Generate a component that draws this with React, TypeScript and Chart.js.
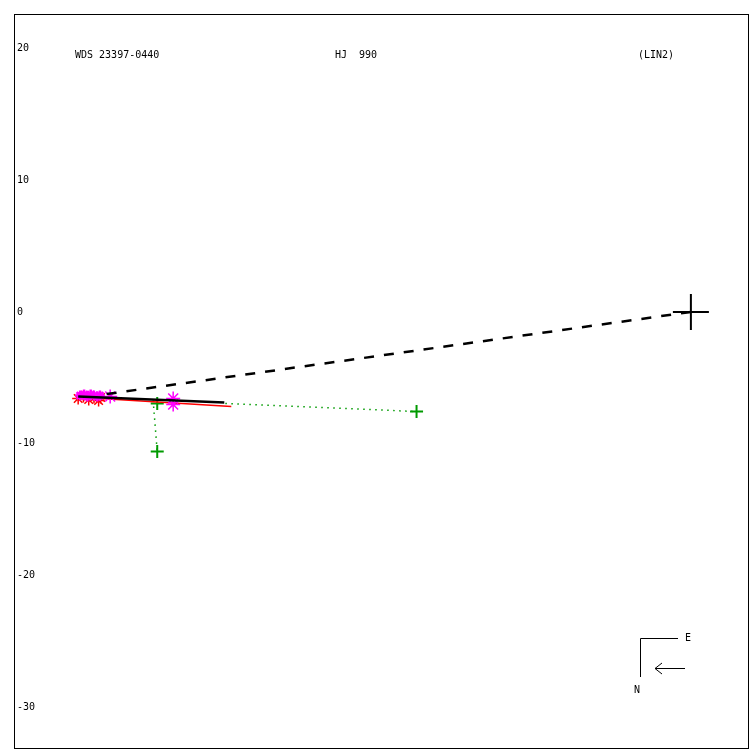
import React, { useEffect, useRef } from "react";
import { Chart, registerables } from "chart.js";

Chart.register(...registerables);

// Axis ranges (arcsec) and tick labels
const X_RANGE = [-51.37, 4.41];
const Y_RANGE = [-33.17, 22.61];
const Y_TICKS = [-30, -20, -10, 0, 10, 20];

// Labels
const TITLE_WDS = "WDS 23397-0440";
const TITLE_DISC = "HJ  990";
const TITLE_ORBIT = "(LIN2)";

// Primary star
const PRIMARY = [{ x: 0, y: 0 }];
// Line of nodes (dashed)
const NODE_LINE = [{ x: 0, y: 0 }, { x: -44.6, y: -6.27 }];
// Linear ephemeris (solid black)
const LINEAR_FIT = [{ x: -46.5, y: -6.42 }, { x: -35.41, y: -6.88 }];
// Second track (red)
const RED_TRACK = [{ x: -44.83, y: -6.57 }, { x: -34.88, y: -7.18 }];
// Measurements
const RED_POINTS = [
  { x: -46.5, y: -6.57 }, { x: -46.1, y: -6.42 }, { x: -45.7, y: -6.65 },
  { x: -45.3, y: -6.5 }, { x: -44.95, y: -6.72 }, { x: -44.8, y: -6.5 },
];
const MAGENTA_CLUSTER = [
  { x: -46.35, y: -6.35 }, { x: -46.05, y: -6.27 }, { x: -45.8, y: -6.42 },
  { x: -45.55, y: -6.27 }, { x: -45.3, y: -6.35 }, { x: -45.05, y: -6.42 },
  { x: -44.85, y: -6.35 },
];
const MAGENTA_STARS = [
  { x: -44.07, y: -6.42 }, { x: -39.29, y: -6.57 }, { x: -39.29, y: -7.03 },
];
const GREEN_POINTS = [
  { x: -40.5, y: -6.95 }, { x: -40.5, y: -10.6 }, { x: -20.82, y: -7.56 },
];
const GREEN_OC_1 = [{ x: -40.81, y: -6.72 }, { x: -40.5, y: -10.6 }];
const GREEN_OC_2 = [{ x: -35.33, y: -6.95 }, { x: -20.82, y: -7.56 }];

const GREEN = "#009a00";
const MAGENTA = "#ff00ff";
const RED = "#ff0000";
const FONT = '10px "DejaVu Sans Mono", monospace';

const decorPlugin = {
  id: "decor",
  afterDraw(chart: any) {
    const ctx = chart.ctx;
    const { left, top, right, bottom } = chart.chartArea;
    const yScale = chart.scales.y;
    ctx.save();
    ctx.strokeStyle = "#000";
    ctx.lineWidth = 1;
    ctx.strokeRect(left + 0.5, top + 0.5, right - left - 1, bottom - top - 1);
    ctx.fillStyle = "#000";
    ctx.font = FONT;
    ctx.textBaseline = "middle";
    ctx.textAlign = "left";
    // y tick labels from the scale's own ticks (mirrored inside the frame)
    yScale.ticks.forEach((t: any) => {
      ctx.fillText(String(t.value), left + 3, yScale.getPixelForValue(t.value));
    });
    ctx.fillText(TITLE_WDS, 75, 55);
    ctx.fillText(TITLE_DISC, 335, 55);
    ctx.fillText(TITLE_ORBIT, 638, 55);
    // compass
    ctx.beginPath();
    ctx.moveTo(678, 638.5);
    ctx.lineTo(640.5, 638.5);
    ctx.lineTo(640.5, 677);
    ctx.stroke();
    ctx.fillText("E", 685, 638);
    ctx.fillText("N", 634, 690);
    ctx.beginPath();
    ctx.moveTo(685, 668.5);
    ctx.lineTo(655, 668.5);
    ctx.moveTo(662, 663);
    ctx.lineTo(655, 668.5);
    ctx.lineTo(662, 674);
    ctx.stroke();
    ctx.restore();
  },
};

export default function App() {
  const ref = useRef<HTMLCanvasElement>(null);
  useEffect(() => {
    if (!ref.current) return;
    const lineDs = (data: any, color: string, width: number, dash: number[], order: number) => ({
      data,
      showLine: true,
      borderColor: color,
      borderWidth: width,
      borderDash: dash,
      pointRadius: 0,
      fill: false,
      order,
    });
    const ptDs = (data: any, color: string, style: string, r: number, w: number, order: number) => ({
      data,
      showLine: false,
      pointStyle: style,
      pointRadius: r,
      pointBorderColor: color,
      pointBackgroundColor: color,
      pointBorderWidth: w,
      borderColor: color,
      backgroundColor: color,
      order,
    });
    const chart = new Chart(ref.current, {
      type: "scatter",
      data: {
        datasets: [
          ptDs(PRIMARY, "#000", "cross", 18, 2, 0) as any,
          lineDs(NODE_LINE, "#000", 2.5, [10, 10], 1),
          lineDs(LINEAR_FIT, "#000", 2.5, [], 2),
          ptDs(MAGENTA_STARS, MAGENTA, "star", 7, 1.5, 3),
          ptDs(MAGENTA_CLUSTER, MAGENTA, "star", 5, 2.5, 4),
          ptDs(RED_POINTS, RED, "star", 6, 1.5, 5),
          lineDs(RED_TRACK, RED, 1.5, [], 6),
          ptDs(GREEN_POINTS, GREEN, "cross", 6.5, 2, 7),
          lineDs(GREEN_OC_1, GREEN, 1.5, [1.5, 4.5], 8),
          lineDs(GREEN_OC_2, GREEN, 1.5, [1.5, 4.5], 9),
        ],
      },
      options: {
        animation: false,
        responsive: false,
        devicePixelRatio: 1,
        layout: { autoPadding: false, padding: { left: 14, top: 14, right: 1, bottom: 1 } },
        plugins: { legend: { display: false }, tooltip: { enabled: false } },
        scales: {
          x: {
            type: "linear",
            min: X_RANGE[0],
            max: X_RANGE[1],
            display: false,
          },
          y: {
            type: "linear",
            min: Y_RANGE[0],
            max: Y_RANGE[1],
            display: false,
            afterBuildTicks: (scale: any) => {
              scale.ticks = Y_TICKS.map((v) => ({ value: v }));
            },
          },
        },
      },
      plugins: [decorPlugin],
    } as any);
    return () => chart.destroy();
  }, []);
  return (
    <div style={{ position: "absolute", left: 0, top: 0, width: 750, height: 750 }}>
      <canvas ref={ref} width={750} height={750} />
    </div>
  );
}
